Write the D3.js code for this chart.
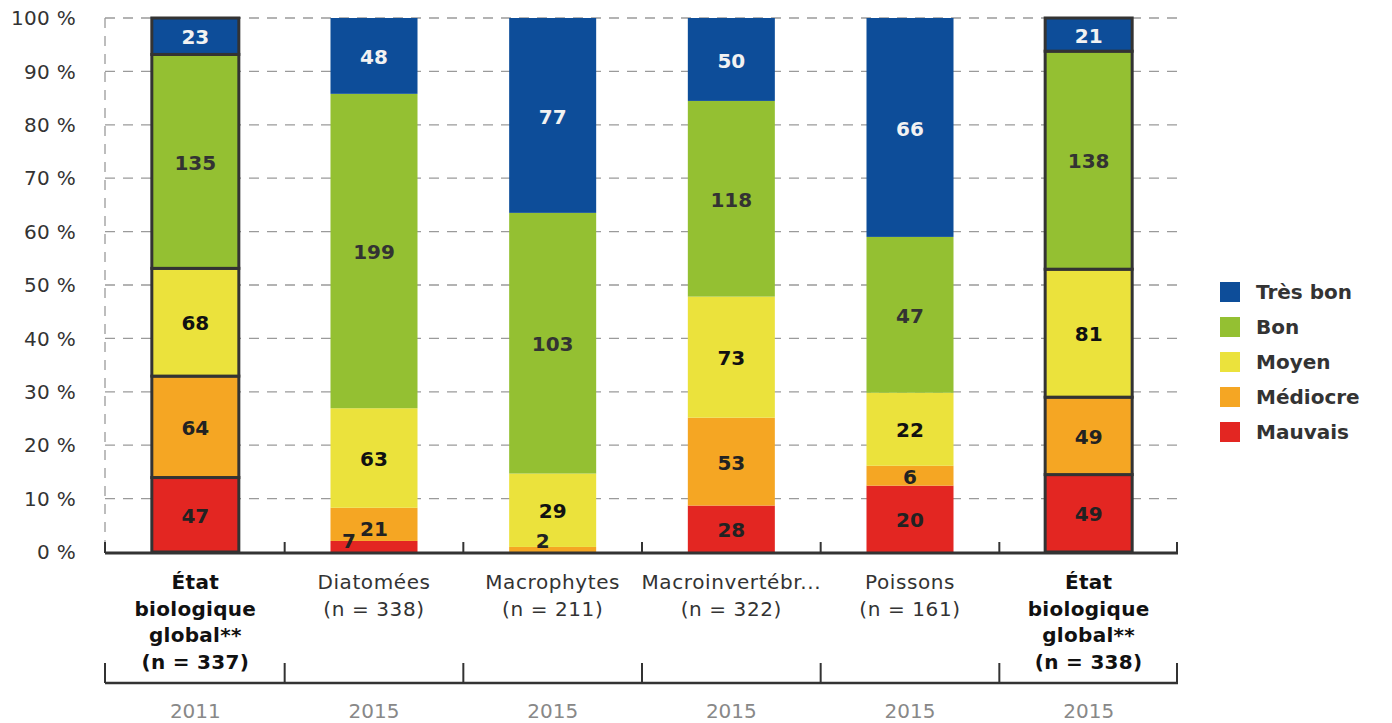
<!DOCTYPE html>
<html>
<head>
<meta charset="utf-8">
<script src="https://cdn.jsdelivr.net/npm/d3@7"></script>
<style>
  html, body { margin: 0; padding: 0; background: #fff; }
  svg { display: block; font-family: "DejaVu Sans", Verdana, sans-serif; }
</style>
</head>
<body>
<svg id="chart" width="1392" height="723"></svg>
<script>
// ---- data ----
const categories = ["g2011", "diat", "macro", "invert", "poiss", "g2015"];
const categoryLines = [
  ["État", "biologique", "global**", "(n = 337)"],
  ["Diatomées", "(n = 338)"],
  ["Macrophytes", "(n = 211)"],
  ["Macroinvertébr...", "(n = 322)"],
  ["Poissons", "(n = 161)"],
  ["État", "biologique", "global**", "(n = 338)"]
];
const years = ["2011", "2015", "2015", "2015", "2015", "2015"];
const highlighted = [true, false, false, false, false, true];

const seriesNames = ["Mauvais", "Médiocre", "Moyen", "Bon", "Très bon"];
const mauvais  = [47, 7, 0, 28, 20, 49];
const mediocre = [64, 21, 2, 53, 6, 49];
const moyen    = [68, 63, 29, 73, 22, 81];
const bon      = [135, 199, 103, 118, 47, 138];
const tresBon  = [23, 48, 77, 50, 66, 21];
const seriesValues = [mauvais, mediocre, moyen, bon, tresBon];

const yTicks = [0, 10, 20, 30, 40, 50, 60, 70, 80, 90, 100];
const colors = ["#e32622", "#f5a623", "#ebe23c", "#94c032", "#0d4d99"];
const labelColors = ["#222", "#222", "#111", "#333", "#f2f2f2"];

// ---- layout ----
const svg = d3.select("#chart");
const pLeft = 105, pRight = 1177, pTop = 18, pBottom = 552;

const x = d3.scaleBand().domain(categories).range([pLeft + 1, pRight + 1]).padding(0);
const y = d3.scaleLinear().domain([0, 100]).range([pBottom, pTop]);
const barW = x.bandwidth() * 0.487;

// grid
const grid = svg.append("g");
grid.selectAll("line.h").data(yTicks.filter(d => d > 0)).join("line")
  .attr("x1", pLeft).attr("x2", pRight)
  .attr("y1", d => y(d)).attr("y2", d => y(d))
  .attr("stroke", "#9a9a9a").attr("stroke-width", 1.3)
  .attr("stroke-dasharray", "10,8");
grid.append("line")
  .attr("x1", pLeft).attr("x2", pLeft).attr("y1", pTop).attr("y2", pBottom)
  .attr("stroke", "#9a9a9a").attr("stroke-width", 1.3)
  .attr("stroke-dasharray", "10,8");

// y axis labels
svg.append("g").selectAll("text").data(yTicks).join("text")
  .attr("x", 76).attr("y", d => y(d)).attr("dy", "0.36em")
  .attr("text-anchor", "end")
  .attr("font-size", 20).attr("letter-spacing", 0.3).attr("fill", "#333")
  .text(d => d + " %");

// stacked data
const stacked = categories.map((c, i) => {
  const total = seriesValues.reduce((s, arr) => s + arr[i], 0);
  let acc = 0;
  return seriesValues.map((arr, k) => {
    const v = arr[i];
    const y0 = acc / total * 100;
    acc += v;
    const y1 = acc / total * 100;
    return { cat: c, ci: i, k, v, y0, y1 };
  });
});

// bars
const barsG = svg.append("g");
stacked.forEach((segs, i) => {
  const cx = x(categories[i]) + x.bandwidth() / 2;
  const g = barsG.append("g");
  g.selectAll("rect").data(segs.filter(s => s.v > 0)).join("rect")
    .attr("x", cx - barW / 2)
    .attr("width", barW)
    .attr("y", s => y(s.y1))
    .attr("height", s => y(s.y0) - y(s.y1))
    .attr("fill", s => colors[s.k])
    .attr("stroke", highlighted[i] ? "#333" : "none")
    .attr("stroke-width", highlighted[i] ? 3 : 0);
});

// labels
const labG = svg.append("g");
stacked.forEach((segs, i) => {
  const cx = x(categories[i]) + x.bandwidth() / 2;
  const vis = segs.filter(s => s.v > 0);
  vis.forEach((s, j) => {
    const h = y(s.y0) - y(s.y1);
    let lx = cx, ly = (y(s.y0) + y(s.y1)) / 2;
    if (h < 14) {
      ly = y(s.y0) - 12;
      const next = vis[j + 1];
      const nextY = next ? (y(next.y0) + y(next.y1)) / 2 : -1000;
      lx = cx - (Math.abs(nextY - ly) < 20 ? 25 : 10);
    } else if (h < 40 && j === 1 && vis[0] && (y(vis[0].y0) - y(vis[0].y1)) < 14) {
      ly += 3;
    }
    labG.append("text")
      .attr("x", lx).attr("y", ly + 1).attr("dy", "0.36em")
      .attr("text-anchor", "middle")
      .attr("font-size", 20).attr("font-weight", "bold")
      .attr("fill", labelColors[s.k])
      .text(s.v);
  });
});

// main x axis
const axisG = svg.append("g");
axisG.append("line").attr("x1", pLeft).attr("x2", pRight + 1)
  .attr("y1", pBottom + 1).attr("y2", pBottom + 1)
  .attr("stroke", "#333").attr("stroke-width", 3);
const boundaries = categories.map(c => x(c)).concat([pRight]);
boundaries[0] = pLeft;
axisG.selectAll("line.t").data(boundaries).join("line")
  .attr("x1", d => d).attr("x2", d => d)
  .attr("y1", pBottom - 10).attr("y2", pBottom + 1)
  .attr("stroke", "#333").attr("stroke-width", 2);

// category labels
categoryLines.forEach((lines, i) => {
  const cx = x(categories[i]) + x.bandwidth() / 2;
  const t = svg.append("text")
    .attr("text-anchor", "middle")
    .attr("font-size", 20)
    .attr("letter-spacing", highlighted[i] ? 0.3 : 0.6)
    .attr("font-weight", highlighted[i] ? "bold" : "normal")
    .attr("fill", highlighted[i] ? "#111" : "#333");
  lines.forEach((ln, j) => {
    t.append("tspan").attr("x", cx).attr("y", 589 + j * 26.5).text(ln);
  });
});

// second axis (years)
const axis2Y = 683;
axisG.append("line").attr("x1", pLeft).attr("x2", pRight + 1)
  .attr("y1", axis2Y).attr("y2", axis2Y)
  .attr("stroke", "#333").attr("stroke-width", 2.5);
axisG.selectAll("line.t2").data(boundaries).join("line")
  .attr("x1", d => d).attr("x2", d => d)
  .attr("y1", axis2Y - 20).attr("y2", axis2Y)
  .attr("stroke", "#333").attr("stroke-width", 2);

svg.append("g").selectAll("text").data(years).join("text")
  .attr("x", (d, i) => x(categories[i]) + x.bandwidth() / 2)
  .attr("y", 718)
  .attr("text-anchor", "middle")
  .attr("font-size", 20).attr("fill", "#888")
  .text(d => d);

// legend
const legendOrder = [4, 3, 2, 1, 0];
const leg = svg.append("g");
legendOrder.forEach((k, r) => {
  const cy = 292 + r * 35;
  leg.append("rect").attr("x", 1220).attr("y", cy - 10)
    .attr("width", 20).attr("height", 20).attr("fill", colors[k]);
  leg.append("text").attr("x", 1256).attr("y", cy).attr("dy", "0.36em")
    .attr("font-size", 20).attr("font-weight", "bold").attr("fill", "#333")
    .text(seriesNames[k]);
});
</script>
</body>
</html>
